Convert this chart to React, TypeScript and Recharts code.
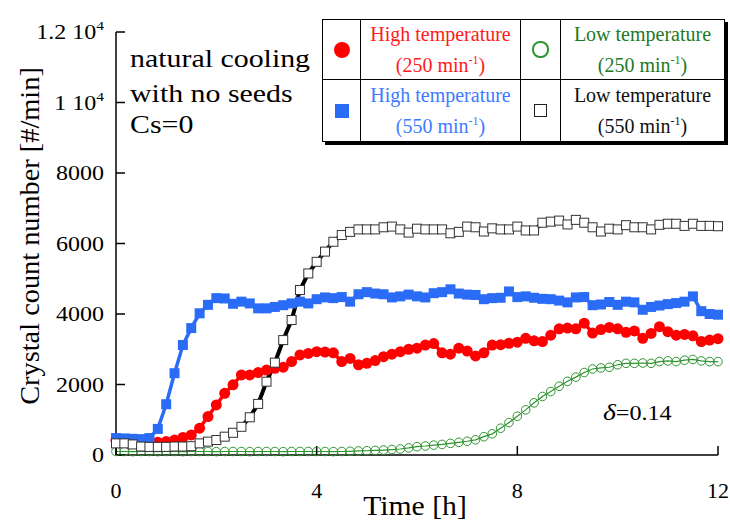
import React from "react"
import { LineChart, Line, XAxis, YAxis } from "recharts"

const serif = "Liberation Serif, Times New Roman, serif"

// sampling every 10 min
const minutes = [
  0, 10, 20, 30, 40, 50, 60, 70, 80, 90, 100, 110, 120, 130, 140, 150, 160, 170, 180, 190, 200, 210, 220, 230, 240,
  250, 260, 270, 280, 290, 300, 310, 320, 330, 340, 350, 360, 370, 380, 390, 400, 410, 420, 430, 440, 450, 460, 470,
  480, 490, 500, 510, 520, 530, 540, 550, 560, 570, 580, 590, 600, 610, 620, 630, 640, 650, 660, 670, 680, 690, 700,
  710, 720,
]

const highTemp250 = [
  420, 400, 380, 360, 350, 360, 380, 425, 500, 570, 760, 1090, 1420, 1750, 1990, 2270, 2270, 2340, 2410, 2460, 2490,
  2650, 2840, 2880, 2930, 2920, 2900, 2650, 2740, 2560, 2600, 2680, 2790, 2860, 2930, 3000, 3030, 3120, 3160, 2900,
  2860, 3030, 2950, 2810, 2900, 3120, 3130, 3170, 3200, 3310, 3240, 3220, 3400, 3580, 3600, 3580, 3740, 3460, 3560,
  3620, 3580, 3480, 3520, 3310, 3450, 3640, 3500, 3400, 3420, 3380, 3220, 3260, 3300,
]

const highTemp550 = [
  480, 470, 460, 450, 480, 740, 1440, 2320, 3120, 3600, 4020, 4260, 4450, 4440, 4290, 4350, 4300, 4160, 4160, 4200,
  4250, 4300, 4350, 4300, 4420, 4470, 4450, 4480, 4350, 4560, 4620, 4580, 4560, 4470, 4500, 4550, 4500, 4470, 4590,
  4620, 4700, 4580, 4550, 4540, 4420, 4450, 4460, 4640, 4480, 4500, 4460, 4430, 4420, 4380, 4330, 4470, 4480, 4250,
  4270, 4340, 4260, 4350, 4330, 4120, 4200, 4240, 4280, 4310, 4350, 4500, 4080, 4000, 3980,
]

const lowTemp250 = [
  100, 100, 95, 100, 100, 95, 100, 100, 95, 100, 100, 100, 95, 100, 100, 100, 95, 100, 100, 100, 95, 100, 100, 100,
  100, 100, 95, 100, 105, 115, 120, 130, 140, 155, 170, 200, 236, 255, 280, 300, 330, 360, 390, 430, 520, 600, 760,
  920, 1100, 1280, 1480, 1660, 1800, 1950, 2090, 2210, 2340, 2440, 2470, 2490, 2560, 2600, 2600, 2610, 2600, 2650,
  2670, 2650, 2690, 2710, 2670, 2650, 2650,
]

const lowTemp550 = [
  330, 330, 300, 240, 230, 230, 230, 240, 240, 250, 330, 380, 425, 520, 630, 800, 1070, 1450, 2080, 2620, 3260, 3830,
  4680, 5150, 5480, 5770, 6050, 6240, 6330, 6400, 6400, 6400, 6460, 6480, 6400, 6310, 6420, 6400, 6400, 6400, 6290,
  6330, 6480, 6460, 6340, 6430, 6400, 6400, 6480, 6370, 6370, 6590, 6620, 6650, 6540, 6670, 6590, 6460, 6340, 6420,
  6400, 6520, 6460, 6460, 6400, 6530, 6560, 6560, 6500, 6560, 6500, 6500, 6490,
]

const xTicks = [0, 4, 8, 12]
const yTicks = [0, 2000, 4000, 6000, 8000, 10000, 12000]
const yTickLabels: [string, string][] = [
  ["0", ""],
  ["2000", ""],
  ["4000", ""],
  ["6000", ""],
  ["8000", ""],
  ["1 10", "4"],
  ["1.2 10", "4"],
]

const data = minutes.map((m, i) => ({
  t: m / 60,
  hi250: highTemp250[i],
  hi550: highTemp550[i],
  lo250: lowTemp250[i],
  lo550: lowTemp550[i],
}))

const BLUE = "#2a6cf6"
const RED = "#ff0000"
const GREEN = "#2e942e"

// the original figure uses a slightly wide serif face
function YTick(props: any) {
  const { x, y, payload } = props
  const idx = yTicks.indexOf(payload.value)
  const [base, exp] = yTickLabels[idx] || [String(payload.value), ""]
  return (
    <text
      transform={`translate(${x},${y}) scale(1.2,1)`}
      dy="0.35em"
      textAnchor="end"
      style={{ fontFamily: serif, fontSize: 20 }}
      fill="#000"
    >
      {base}
      {exp && (
        <tspan dy={-9} style={{ fontSize: 13 }}>
          {exp}
        </tspan>
      )}
    </text>
  )
}

function XTick(props: any) {
  const { x, y, payload } = props
  return (
    <text
      transform={`translate(${x},${y}) scale(1.1,1)`}
      dy={14}
      textAnchor="middle"
      style={{ fontFamily: serif, fontSize: 20 }}
      fill="#000"
    >
      {payload.value}
    </text>
  )
}

const blueSquare = (p: any) => (
  <rect key={`b${p.index}`} x={p.cx - 5} y={p.cy - 5} width={10} height={10} fill={BLUE} />
)
const redCircle = (p: any) => <circle key={`r${p.index}`} cx={p.cx} cy={p.cy} r={5.5} fill={RED} />
const greenCircle = (p: any) => (
  <circle key={`g${p.index}`} cx={p.cx} cy={p.cy} r={4.3} fill="none" stroke={GREEN} strokeWidth={1} />
)
const blackSquare = (p: any) => (
  <rect
    key={`k${p.index}`}
    x={p.cx - 4.5}
    y={p.cy - 4.5}
    width={9}
    height={9}
    fill="#fff"
    stroke="#333"
    strokeWidth={1}
  />
)

const cell: React.CSSProperties = {
  display: "flex",
  alignItems: "center",
  justifyContent: "center",
  textAlign: "center",
  fontFamily: serif,
  fontSize: 20,
  lineHeight: "31px",
}

function Legend() {
  const rows = [
    [
      { mark: <div style={{ width: 16, height: 16, borderRadius: 8, background: RED }} />, text: "High temperature", rate: "250", color: "#ff1a1a" },
      {
        mark: <div style={{ width: 13, height: 13, borderRadius: 8, border: `2px solid ${GREEN}` }} />,
        text: "Low temperature",
        rate: "250",
        color: "#1e7a1e",
      },
    ],
    [
      { mark: <div style={{ width: 14, height: 14, background: BLUE }} />, text: "High temperature", rate: "550", color: "#3d7bff" },
      { mark: <div style={{ width: 11, height: 11, border: "1.5px solid #222" }} />, text: "Low temperature", rate: "550", color: "#111" },
    ],
  ]
  return (
    <div
      style={{
        position: "absolute",
        left: 322,
        top: 19,
        width: 401,
        height: 121,
        border: "1.5px solid #000",
        boxShadow: "3px 3px 0 #000",
        background: "#fff",
        display: "grid",
        gridTemplateColumns: "38px 160px 40px 163px",
        gridTemplateRows: "60px 61px",
      }}
    >
      {rows.flatMap((row, ri) =>
        row.flatMap((it, ci) => [
          <div
            key={`m${ri}${ci}`}
            style={{
              ...cell,
              borderRight: "1.5px solid #000",
              borderBottom: ri === 0 ? "1.5px solid #000" : "none",
            }}
          >
            {it.mark}
          </div>,
          <div
            key={`t${ri}${ci}`}
            style={{
              ...cell,
              color: it.color,
              borderRight: ci === 0 ? "1.5px solid #000" : "none",
              borderBottom: ri === 0 ? "1.5px solid #000" : "none",
            }}
          >
            <div>
              {it.text}
              <br />({it.rate} min
              <sup style={{ fontSize: 12, lineHeight: 0 }}>-1</sup>)
            </div>
          </div>,
        ])
      )}
    </div>
  )
}

export default function App() {
  return (
    <div style={{ position: "fixed", left: 0, top: 0, width: 730, height: 525, background: "#fff" }}>
      <LineChart width={730} height={525} data={data} margin={{ top: 32, right: 12, bottom: 0, left: 0 }}>
        <XAxis
          xAxisId="b"
          dataKey="t"
          type="number"
          domain={[0, 12]}
          ticks={xTicks}
          tickSize={-9}
          tickMargin={38}
          height={70}
          stroke="#000"
          strokeWidth={1.5}
          tick={<XTick />}
        />
        <XAxis
          xAxisId="top"
          orientation="top"
          dataKey="t"
          type="number"
          domain={[0, 12]}
          ticks={xTicks}
          tickSize={-9}
          height={0}
          stroke="#000"
          strokeWidth={1.5}
          tick={false}
        />
        <YAxis
          yAxisId="l"
          type="number"
          domain={[0, 12000]}
          ticks={yTicks}
          tickSize={-9}
          tickMargin={21}
          width={116}
          stroke="#000"
          strokeWidth={1.5}
          tick={<YTick />}
        />
        <YAxis
          yAxisId="r"
          orientation="right"
          type="number"
          domain={[0, 12000]}
          ticks={yTicks}
          tickSize={-9}
          width={0}
          stroke="#000"
          strokeWidth={1.5}
          tick={false}
        />
        <Line xAxisId="b" yAxisId="l" dataKey="lo250" stroke={GREEN} strokeWidth={1.2} dot={greenCircle} isAnimationActive={false} />
        <Line xAxisId="b" yAxisId="l" dataKey="hi250" stroke={RED} strokeWidth={3.5} dot={redCircle} isAnimationActive={false} />
        <Line xAxisId="b" yAxisId="l" dataKey="hi550" stroke={BLUE} strokeWidth={3.5} dot={blueSquare} isAnimationActive={false} />
        <Line xAxisId="b" yAxisId="l" dataKey="lo550" stroke="#000" strokeWidth={4} dot={blackSquare} isAnimationActive={false} />
      </LineChart>
      <svg width={730} height={525} style={{ position: "absolute", left: 0, top: 0, pointerEvents: "none" }}>
        <text
          transform="translate(30,236) rotate(-90) scale(1.05,1)"
          textAnchor="middle"
          dominantBaseline="central"
          style={{ fontFamily: serif, fontSize: 27 }}
        >
          Crystal count number [#/min]
        </text>
        <text
          transform="translate(415,515) scale(1.1,1)"
          textAnchor="middle"
          style={{ fontFamily: serif, fontSize: 27 }}
        >
          Time [h]
        </text>
        <text transform="translate(130,0) scale(1.15,1)" style={{ fontFamily: serif, fontSize: 26 }}>
          <tspan x={0} y={67}>natural cooling</tspan>
          <tspan x={0} y={102}>with no seeds</tspan>
          <tspan x={0} y={133}>Cs=0</tspan>
        </text>
        <text transform="translate(603,420) scale(1.15,1)" style={{ fontFamily: serif, fontSize: 21 }}>
          <tspan style={{ fontStyle: "italic", fontSize: 24 }}>δ</tspan>=0.14
        </text>
      </svg>
      <Legend />
    </div>
  )
}
